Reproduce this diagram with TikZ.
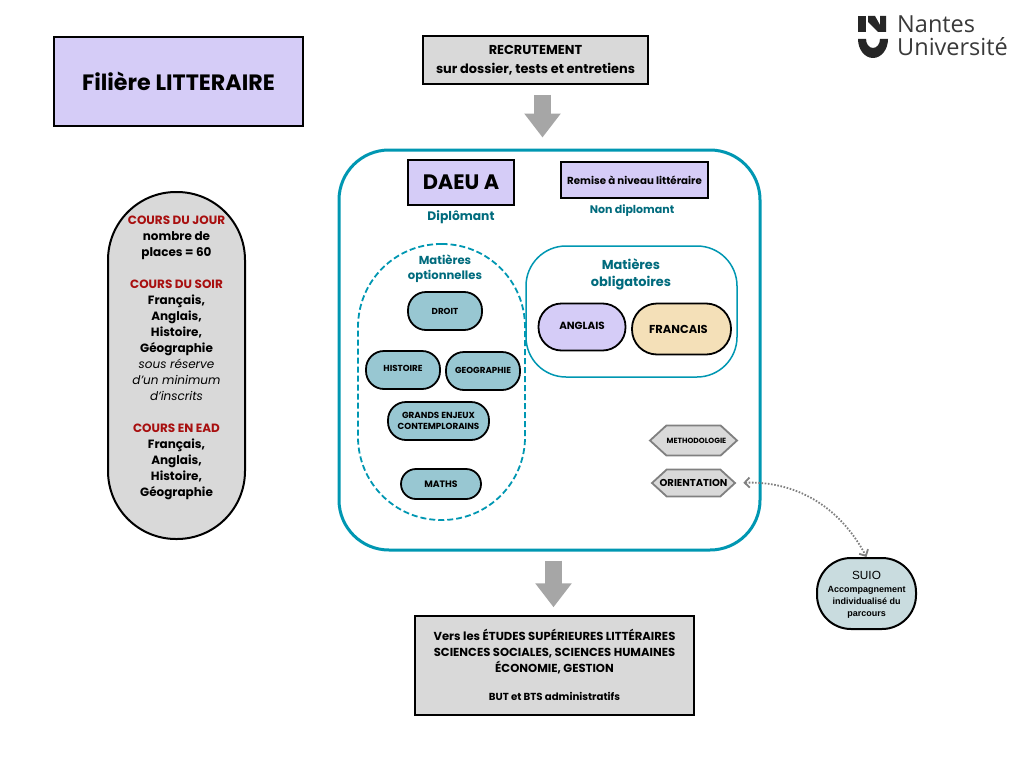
\documentclass[tikz,border=0pt]{standalone}
\usepackage{fontspec}
\setmainfont{Poppins}
\newfontfamily\logofont{Open Sans}
\newfontfamily\suiofont{Liberation Sans}
\usetikzlibrary{arrows.meta,shapes.symbols}
\definecolor{lavande}{HTML}{D5CCF7}
\definecolor{gristxt}{HTML}{D9D9D9}
\definecolor{cadre}{HTML}{0097B2}
\definecolor{sarcelle}{HTML}{006B7D}
\definecolor{bleumat}{HTML}{98C7D2}
\definecolor{sable}{HTML}{F4E0B8}
\definecolor{suiofond}{HTML}{C9DCDF}
\definecolor{rouge}{HTML}{A80F0F}
\definecolor{logogris}{HTML}{3A3A3A}
\newcommand{\fsize}[2]{\fontsize{#1}{#2}\selectfont}
\tikzset{
  boite/.style={draw=black,line width=1.5pt,inner sep=0pt,align=center,font=\bfseries},
  matiere/.style={draw=black,line width=1.8pt,fill=bleumat,inner sep=0pt,align=center,rounded corners=18pt,font=\bfseries\fsize{8.7}{12}},
  titre/.style={inner sep=0pt,align=center,text=sarcelle,font=\bfseries},
  hexa/.style={draw=gray,line width=1.8pt,fill=gristxt,inner sep=0pt,shape=signal,signal to=west and east,signal pointer angle=85,font=\bfseries},
  grosse/.style={draw=black!35,line width=17pt,-{Triangle[length=24pt,width=35pt]}},
  lien/.style={draw=gray,line width=1.8pt,dash pattern=on 1.6pt off 1.6pt,{Straight Barb[length=5pt,width=10pt]}-{Straight Barb[length=5pt,width=10pt]}}
}
\begin{document}
\begin{tikzpicture}[x=1pt,y=-1pt]
        \useasboundingbox[fill=white] (0,0) rectangle (1024,768);
        % Title and recruitment
        \node[boite,fill=lavande,minimum width=249pt,minimum height=89pt,font=\bfseries\fsize{22.2}{26}] (filiere) at (178.5,81.5) {Filière LITTERAIRE};
        \node[boite,fill=gristxt,minimum width=225pt,minimum height=48pt,font=\bfseries\fsize{12.9}{19}] (recrutement) at (535.5,60) {RECRUTEMENT\\sur dossier, tests et entretiens};
        % Logo
        \fill[black!85] (858,16) rectangle (865.5,32);
        \fill[black!85] (868,16) -- (875,16) -- (880,25) -- (880,16) -- (886,16) -- (886,32) -- (878,32) -- (868,22) -- cycle;
        \fill[black!85] (858,39) -- (866,39) arc[start angle=180,end angle=0,x radius=7,y radius=9] -- (888,39) arc[start angle=0,end angle=180,x radius=15,y radius=19] -- cycle;
        \node[inner sep=0pt,anchor=west,text=logogris,font=\logofont\fsize{23.5}{26}] (nantes) at (897,24) {Nantes};
        \node[inner sep=0pt,anchor=west,text=logogris,font=\logofont\fsize{23.5}{26}] (universite) at (897,47) {Université};
        % Main frame
        \node[draw=cadre,line width=3pt,rounded corners=50pt,minimum width=421pt,minimum height=400pt] (formation) at (549.5,350) {};
        \node[boite,fill=lavande,minimum width=106pt,minimum height=45pt,font=\bfseries\fsize{20.9}{24}] (daeu) at (461,182.5) {DAEU A};
        \node[boite,fill=lavande,minimum width=147pt,minimum height=36pt,font=\bfseries\fsize{10.25}{12}] (remise) at (634.5,180) {Remise à niveau littéraire};
        \node[titre,font=\bfseries\fsize{12.3}{14}] (diplomant) at (461,217) {Diplômant};
        \node[titre,font=\bfseries\fsize{11}{14}] (nondiplomant) at (632,211) {Non diplomant};
        % Optional subjects
        \node[draw=cadre,line width=1.8pt,dash pattern=on 6pt off 3pt,rounded corners=83pt,minimum width=167pt,minimum height=276pt] (optionnelles) at (441.5,382) {};
        \node[titre,font=\bfseries\fsize{11.6}{15}] (titreopt) at (445,269) {Matières\\optionnelles};
        \node[matiere,minimum width=74pt,minimum height=38pt] (droit) at (445,311) {DROIT};
        \node[matiere,minimum width=74pt,minimum height=38pt,text depth=3pt] (histoire) at (403,370) {HISTOIRE};
        \node[matiere,minimum width=74pt,minimum height=38pt] (geographie) at (483,371) {\raisebox{2pt}{GEOGRAPHIE}};
        \node[matiere,minimum width=101pt,minimum height=38pt,font=\bfseries\fsize{8.8}{11}] (enjeux) at (438.5,421) {GRANDS ENJEUX\\CONTEMPLORAINS};
        \node[matiere,minimum width=80pt,minimum height=30pt,rounded corners=15pt,font=\bfseries\fsize{9.3}{12}] (maths) at (441,484) {MATHS};
        % Compulsory subjects
        \node[draw=cadre,line width=1.5pt,rounded corners=40pt,minimum width=211pt,minimum height=131pt] (obligatoires) at (631.5,311.5) {};
        \node[titre,font=\bfseries\fsize{12.9}{17}] (titreobl) at (631,274.5) {Matières\\obligatoires};
        \node[matiere,fill=lavande,minimum width=87pt,minimum height=47pt,rounded corners=23pt,font=\bfseries\fsize{10.4}{12}] (anglais) at (582,327) {\raisebox{2.5pt}{ANGLAIS}};
        \node[matiere,fill=sable,minimum width=99pt,minimum height=51pt,rounded corners=25pt,font=\bfseries\fsize{11.5}{12}] (francais) at (681.5,329) {FRANCAIS\hspace{6pt}};
        % Hexagons
        \node[hexa,minimum width=87pt,minimum height=30pt,font=\bfseries\fsize{7.5}{10}] (methodologie) at (693.5,440.5) {\makebox[0pt]{\hspace{6pt}METHODOLOGIE}};
        \node[hexa,minimum width=83pt,minimum height=27pt,font=\bfseries\fsize{10}{10}] (orientation) at (693.5,483) {\makebox[0pt]{ORIENTATION}};
        % Course pill
        \node[draw=black,line width=2pt,fill=gristxt,rounded corners=68pt,minimum width=137pt,minimum height=347pt] (cours) at (176.5,365.5) {};
        \node[inner sep=0pt,align=center,font=\bfseries\fsize{12}{16}] (courstexte) at (176.5,358) {{\color{rouge}COURS DU JOUR}\\nombre de\\places = 60\\[16pt]{\color{rouge}COURS DU SOIR}\\Français,\\Anglais,\\Histoire,\\Géographie\\{\mdseries\itshape sous réserve}\\{\mdseries\itshape d’un minimum}\\{\mdseries\itshape d’inscrits}\\[16pt]{\color{rouge}COURS EN EAD}\\Français,\\Anglais,\\Histoire,\\Géographie};
        % Outcomes
        \node[boite,fill=gristxt,minimum width=279pt,minimum height=99pt] (etudes) at (554.5,665.5) {};
        \node[inner sep=0pt,align=center,font=\bfseries\fsize{11.6}{16}] (etudestexte) at (554.5,652) {Vers les ÉTUDES SUPÉRIEURES LITTÉRAIRES\\SCIENCES SOCIALES, SCIENCES HUMAINES\\ÉCONOMIE, GESTION};
        \node[inner sep=0pt,font=\bfseries\fsize{10.2}{12}] (but) at (554.5,696) {BUT et BTS administratifs};
        % SUIO
        \node[draw=black,line width=2pt,fill=suiofond,rounded corners=34pt,minimum width=99pt,minimum height=71pt] (suio) at (866.5,593.5) {};
        \node[inner sep=0pt,font=\suiofont\fsize{11.8}{13}] (suiotitre) at (866.5,575) {SUIO};
        \node[inner sep=0pt,align=center,font=\suiofont\bfseries\fsize{9}{12}] (suiotexte) at (866.5,602) {Accompagnement\\individualisé du\\parcours};
        % Connectors
        \draw[grosse,shorten <=10pt,shorten >=11pt] ([xshift=7pt]recrutement.south) -- ([xshift=7pt]recrutement.south |- formation.north);
        \draw[grosse,shorten <=9pt,shorten >=8pt] ([xshift=4pt]formation.south) -- ([xshift=4pt]formation.south |- etudes.north);
        \draw[lien,shorten <=7pt] (orientation.east) to[out=2,in=118] (suio.north);
    \end{tikzpicture}
\end{document}
